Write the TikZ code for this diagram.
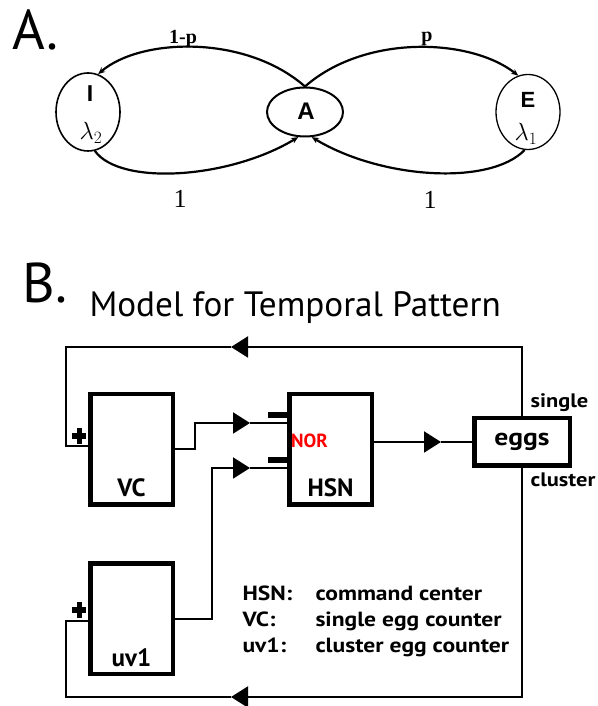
\documentclass[tikz,border=0pt]{standalone}
\usepackage{fontspec}
\setmainfont{PT Sans}
\newfontfamily\ancha[FakeStretch=1.15]{PT Sans}
\newfontfamily\serifa{Liberation Serif}
\newfontfamily\helv{Liberation Sans}
\usetikzlibrary{arrows.meta,shapes.geometric}

\begin{document}
\begin{tikzpicture}[x=1pt, y=1pt,
    estado/.style={draw, ellipse, line width=1.6pt, inner sep=0pt},
    flecha/.style={line width=2.2pt, -{Stealth[length=7pt,width=6pt,open]}},
    caja/.style={draw, line width=4.5pt, inner sep=0pt, minimum width=82.5pt, minimum height=110.5pt},
    hilo/.style={line width=2pt},
    punta/.style={hilo, -{Triangle[length=17pt,width=21pt]}},
    grande/.style={anchor=base west, font=\fontsize{56}{56}\selectfont},
    rotulo/.style={anchor=base, font=\bfseries\fontsize{25}{25}\selectfont},
    leyenda/.style={anchor=base west, font=\ancha\bfseries\fontsize{20.5}{20.5}\selectfont}]
  \useasboundingbox (0,0) rectangle (597,706);

  % A: los tres estados
  \node[grande] (letA) at (9,656) {A.};
  \node[estado, minimum width=64pt, minimum height=78pt] (I) at (88,594) {};
  \node[estado, line width=2pt, minimum width=76pt, minimum height=49pt] (A) at (305,594) {};
  \node[estado, line width=1.3pt, minimum width=64pt, minimum height=75pt] (E) at (528,594) {};
  \node[font=\helv\bfseries\fontsize{23}{23}\selectfont] (It) at (90,612) {I};
  \node[font=\fontsize{25}{25}\selectfont] (Il) at (91,573) {$\lambda_2$};
  \node[font=\helv\bfseries\fontsize{24}{24}\selectfont] (At) at (306,595) {A};
  \node[font=\helv\bfseries\fontsize{22}{22}\selectfont] (Et) at (528,606) {E};
  \node[font=\fontsize{25}{25}\selectfont] (El) at (526,572) {$\lambda_1$};
  % las transiciones
  \draw[flecha] (A.north) .. controls (245,672) and (140,668) .. (I.75);
  \draw[flecha] (A.north) .. controls (365,672) and (470,668) .. (E.105);
  \draw[flecha] (I.-80) .. controls (120,520) and (229,527) .. (A.-105);
  \draw[flecha] (E.-95) .. controls (490,520) and (381,527) .. (A.-75);
  \node[font=\serifa\bfseries\fontsize{20}{20}\selectfont] (q) at (183,667) {1-p};
  \node[font=\serifa\bfseries\fontsize{20}{20}\selectfont] (p) at (427,667) {p};
  \node[font=\serifa\fontsize{26}{26}\selectfont] (u1) at (180,507) {1};
  \node[font=\serifa\fontsize{26}{26}\selectfont] (u2) at (430,506) {1};

  % B: titulo y cajas
  \node[grande] (letB) at (19,403) {B.};
  \node[anchor=base west, font=\fontsize{35.2}{35.2}\selectfont] (titulo) at (86,389) {Model for Temporal Pattern};
  \node[caja] (VC) at (131.5,256.5) {};
  \node[caja] (HSN) at (330.5,256.5) {};
  \node[caja] (uv1) at (131.5,87) {};
  \node[caja, minimum width=95.5pt, minimum height=47.5pt, font=\ancha\bfseries\fontsize{24}{24}\selectfont] (eggs) at (522,264) {eggs};
  \node[rotulo] (VCt) at ([yshift=10pt]VC.south) {VC};
  \node[rotulo] (HSNt) at ([yshift=10pt]HSN.south) {HSN};
  \node[rotulo] (uv1t) at ([yshift=10pt]uv1.south) {uv1};
  \node[anchor=west, text=red, font=\bfseries\fontsize{19}{19}\selectfont, inner sep=0pt] (nor) at (291,265) {NOR};
  \node[leyenda, font=\ancha\bfseries\fontsize{19.5}{19.5}\selectfont] (single) at (527,298) {single};
  \node[leyenda, font=\ancha\bfseries\fontsize{19.5}{19.5}\selectfont] (cluster) at (527,219) {cluster};
  % signos + y -
  \draw[line width=5.5pt] (72,270) -- (86,270) (79.5,262) -- (79.5,278);
  \draw[line width=5.5pt] (72,96) -- (86,96) (79.5,88) -- (79.5,104);
  \draw[line width=6pt] (268,291) -- (HSN.west |- 0,291);
  \draw[line width=6pt] (268,246) -- (HSN.west |- 0,246);

  % entradas al HSN
  \coordinate (t1) at (250,283);
  \draw[punta] (VC.east) -- ++(20,0) |- (t1);
  \draw[hilo] (t1) -- (t1 -| HSN.west);
  \coordinate (t2) at (250,238);
  \draw[punta] (uv1.east) -- ++(37,0) |- (t2);
  \draw[hilo] (t2) -- (t2 -| HSN.west);
  % salida a los huevos
  \coordinate (t3) at (441,264);
  \draw[punta] (HSN.east |- eggs.west) -- (t3);
  \draw[hilo] (t3) -- (eggs.west);
  % las dos vueltas
  \coordinate (t4) at (231,359);
  \coordinate (e1) at (66,260);
  \draw[punta] (eggs.north) |- (t4);
  \draw[hilo] (t4) -| (e1) -- (e1 -| VC.west);
  \coordinate (t5) at (231,9);
  \coordinate (e2) at (66,85);
  \draw[punta] (eggs.south) |- (t5);
  \draw[hilo] (t5) -| (e2) -- (e2 -| uv1.west);

  % leyenda
  \node[leyenda] (l1) at (239,105) {HSN:};
  \node[leyenda] (l2) at (239,79) {VC:};
  \node[leyenda] (l3) at (239,53) {uv1:};
  \node[leyenda] (d1) at (312,105) {command center};
  \node[leyenda] (d2) at (312,79) {single egg counter};
  \node[leyenda] (d3) at (312,53) {cluster egg counter};
\end{tikzpicture}
\end{document}
